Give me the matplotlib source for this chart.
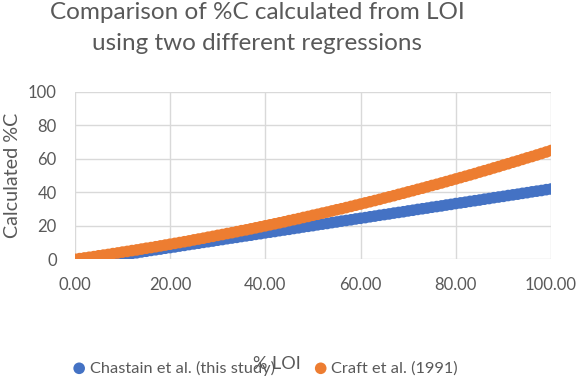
import matplotlib
matplotlib.use("Agg")
import matplotlib.pyplot as plt
from matplotlib.ticker import FormatStrFormatter

plt.rcParams['font.family'] = ['Lato', 'DejaVu Sans']

# %LOI values (x) and calculated %C for both regressions
loi = list(range(0, 101))
chastain = [-1.8, -1.3, -0.9, -0.4, 0.0, 0.4, 0.9, 1.3, 1.8, 2.2,
            2.6, 3.1, 3.5, 3.9, 4.4, 4.8, 5.3, 5.7, 6.1, 6.6,
            7.0, 7.4, 7.9, 8.3, 8.8, 9.2, 9.6, 10.1, 10.5, 10.9,
            11.4, 11.8, 12.3, 12.7, 13.1, 13.6, 14.0, 14.4, 14.9, 15.3,
            15.8, 16.2, 16.6, 17.1, 17.5, 17.9, 18.4, 18.8, 19.3, 19.7,
            20.1, 20.6, 21.0, 21.4, 21.9, 22.3, 22.8, 23.2, 23.6, 24.1,
            24.5, 24.9, 25.4, 25.8, 26.3, 26.7, 27.1, 27.6, 28.0, 28.4,
            28.9, 29.3, 29.8, 30.2, 30.6, 31.1, 31.5, 31.9, 32.4, 32.8,
            33.3, 33.7, 34.1, 34.6, 35.0, 35.4, 35.9, 36.3, 36.8, 37.2,
            37.6, 38.1, 38.5, 38.9, 39.4, 39.8, 40.3, 40.7, 41.1, 41.6,
            42.0]
craft = [0.0, 0.4, 0.8, 1.2, 1.6, 2.1, 2.5, 2.9, 3.4, 3.8,
         4.3, 4.7, 5.2, 5.6, 6.1, 6.6, 7.0, 7.5, 8.0, 8.5,
         9.0, 9.5, 10.0, 10.5, 11.0, 11.6, 12.1, 12.6, 13.2, 13.7,
         14.3, 14.8, 15.4, 15.9, 16.5, 17.1, 17.6, 18.2, 18.8, 19.4,
         20.0, 20.6, 21.2, 21.8, 22.4, 23.1, 23.7, 24.3, 25.0, 25.6,
         26.3, 26.9, 27.6, 28.2, 28.9, 29.6, 30.2, 30.9, 31.6, 32.3,
         33.0, 33.7, 34.4, 35.1, 35.8, 36.6, 37.3, 38.0, 38.8, 39.5,
         40.3, 41.0, 41.8, 42.5, 43.3, 44.1, 44.8, 45.6, 46.4, 47.2,
         48.0, 48.8, 49.6, 50.4, 51.2, 52.1, 52.9, 53.7, 54.6, 55.4,
         56.3, 57.1, 58.0, 58.8, 59.7, 60.6, 61.4, 62.3, 63.2, 64.1,
         65.0]

gray = '#595959'
fig = plt.figure(figsize=(5.8, 3.83), dpi=100)
ax = fig.add_axes([0.129, 0.323, 0.821, 0.437])

ax.scatter(loi, chastain, s=70, color='#4472C4', edgecolors='none',
           label='Chastain et al. (this study)', zorder=3)
ax.scatter(loi, craft, s=70, color='#ED7D31', edgecolors='none',
           label='Craft et al. (1991)', zorder=4)

ax.set_xlim(0, 100)
ax.set_ylim(0, 100)
ax.set_xticks([0, 20, 40, 60, 80, 100])
ax.set_yticks([0, 20, 40, 60, 80, 100])
ax.xaxis.set_major_formatter(FormatStrFormatter('%.2f'))
ax.grid(True, color='#D9D9D9', linewidth=1)
ax.set_axisbelow(True)
for s in ax.spines.values():
    s.set_visible(False)
ax.tick_params(length=0, labelsize=12, labelcolor=gray)
ax.tick_params(axis='x', pad=13)
ax.tick_params(axis='y', pad=13)

fig.text(0.443, 0.995, 'Comparison of %C calculated from LOI\nusing two different regressions',
         ha='center', va='top', fontsize=17.5, color=gray, linespacing=1.6)
fig.text(0.021, 0.543, 'Calculated %C', rotation=90, ha='center', va='center',
         fontsize=14.2, color=gray)
fig.text(0.478, 0.05, '% LOI', ha='center', va='center', fontsize=13, color=gray)

fig.legend(loc='center', bbox_to_anchor=(0.456, 0.039), ncol=2, frameon=False,
           fontsize=11.8, labelcolor=gray, handlelength=1.0, handletextpad=0.15,
           columnspacing=2.3, markerscale=1.0, borderpad=0)

fig.savefig('out.png', dpi=100)
